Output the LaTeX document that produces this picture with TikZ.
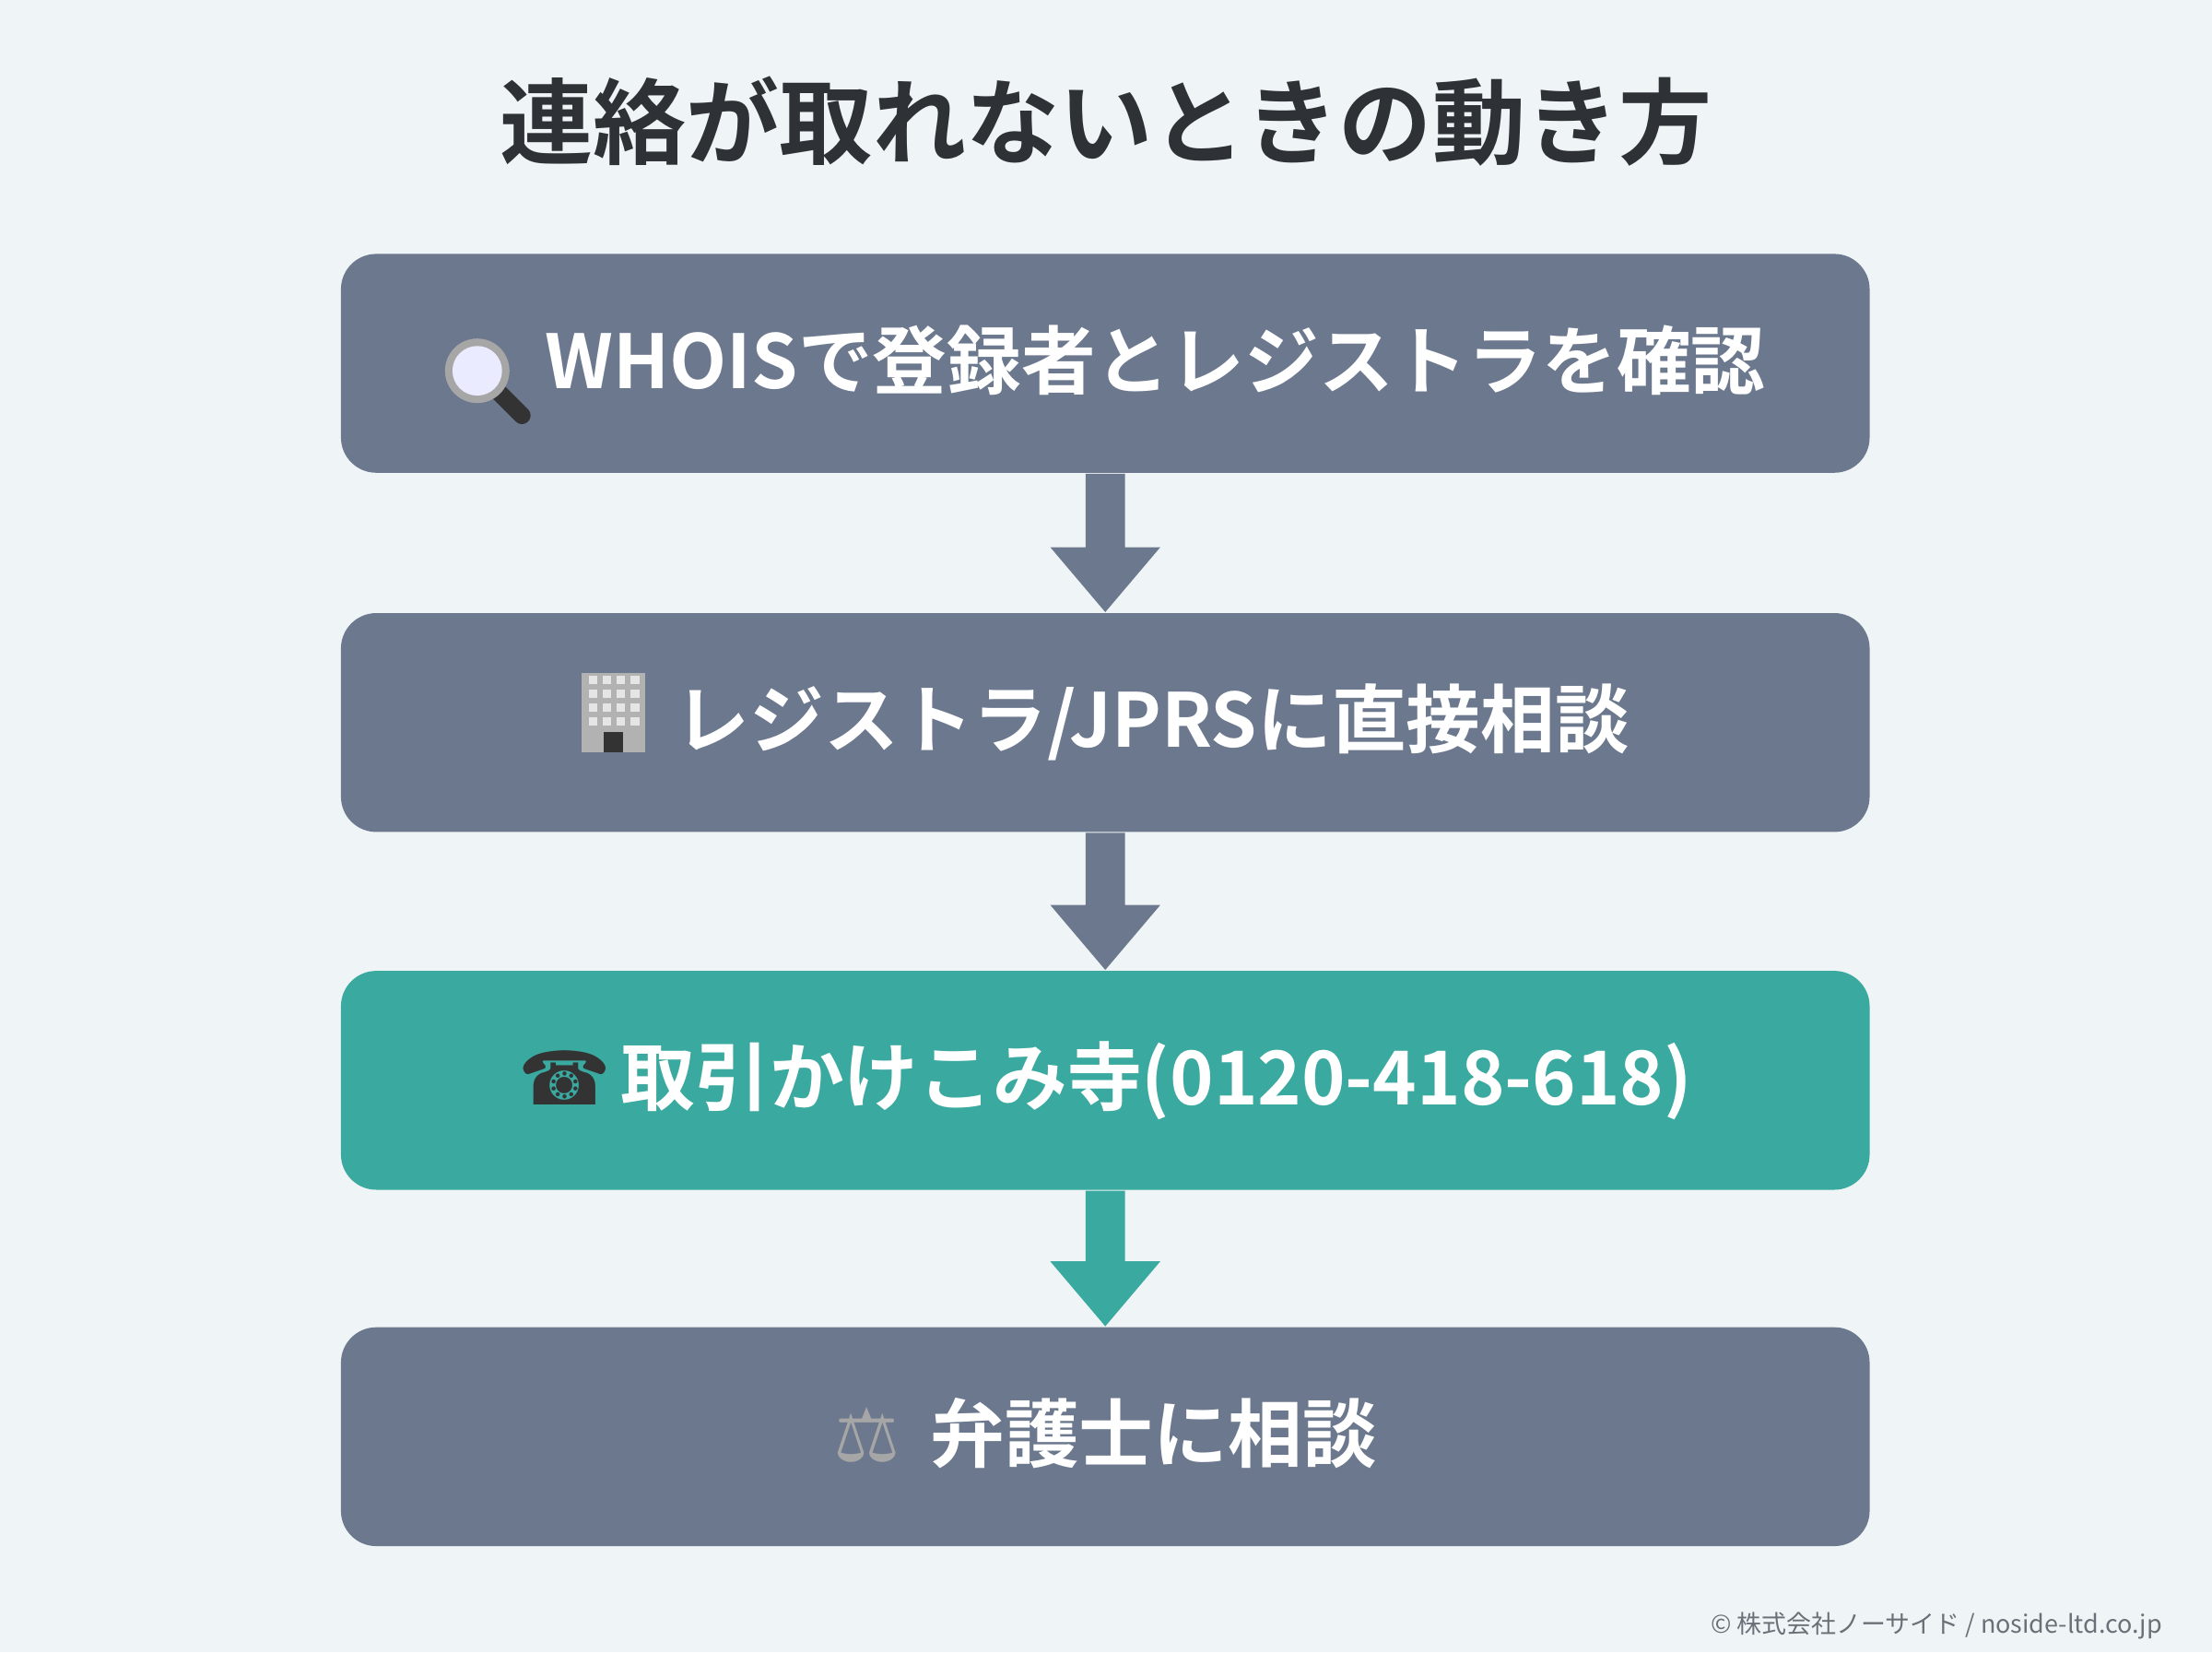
\documentclass[tikz,border=0pt]{standalone}
\usepackage{fontspec}
\setmainfont{Noto Sans CJK JP}[BoldFont={* Bold}]
\newfontfamily\symfont{DejaVu Sans}
\usetikzlibrary{positioning,calc}
\definecolor{boxgray}{HTML}{6B788D}
\definecolor{boxteal}{HTML}{3AA99F}
\definecolor{bgcol}{HTML}{EFF4F6}
\definecolor{titlecol}{HTML}{2E3236}
\definecolor{footcol}{HTML}{6A7078}
\tikzset{
  stepbox/.style={rounded corners=0.25cm, minimum width=10.83cm, minimum height=1.55cm,
    inner sep=0pt, text=white, font=\bfseries\fontsize{15}{16}\selectfont},
  flow/.style={fill=#1}
}
\newcommand{\steptext}[1]{\raisebox{-5pt}[0pt][0pt]{#1}}
% icons
\newcommand{\iconsearch}{\tikz[x=1pt,y=1pt,baseline=-2pt,sharp corners]{%
  \draw[line width=3.5pt,line cap=round,black!80] (3,-3) -- (7.5,-7.5);
  \fill[gray!70] (-1.5,1.5) circle (6.5);
  \fill[blue!8] (-1.5,1.5) circle (5);}}
\newcommand{\iconbuilding}{\tikz[x=1pt,y=1pt,baseline=-6pt,sharp corners]{%
  \fill[gray!60] (0,-7) rectangle (13,9);
  \foreach \i in {0,...,3}{\foreach \j in {0,...,3}{
    \fill[gray!20] (1.5+\i*2.8,6.8-\j*2.8) rectangle ++(1.8,1.6);}}
  \fill[black!80] (4.5,-7) rectangle (8.5,-3);}}
\begin{document}
\begin{tikzpicture}[x=0.01cm,y=-0.01cm]
  \fill[bgcol] (0,0) rectangle (1568,1171);
  \useasboundingbox (0,0) rectangle (1568,1171);

  \node (title) at (784,86) {\bfseries\fontsize{18.8}{21}\selectfont\color{titlecol}連絡が取れないときの動き方};

  \node[stepbox, fill=boxgray] (b1) at (783.5,257.5) {\steptext{\iconsearch\hspace{3pt}WHOISで登録者とレジストラを確認}};
  \node[stepbox, fill=boxgray, below=0.98cm of b1] (b2) {\steptext{\iconbuilding\hspace{6pt}レジストラ/JPRSに直接相談}};
  \node[stepbox, fill=boxteal, below=0.97cm of b2] (b3) {\steptext{{\symfont\mdseries\color{black!80}☎}\hspace{2pt}取引かけこみ寺(0120-418-618)}};
  \node[stepbox, fill=boxgray, below=0.96cm of b3] (b4) {\steptext{{\symfont\mdseries\color{gray!70}⚖}\hspace{6pt}弁護士に相談}};

  % arrows between steps
  \foreach \a/\b/\c in {b1/b2/boxgray, b2/b3/boxgray, b3/b4/boxteal}{
    \fill[flow=\c] ($(\a.south)+(-14,0)$) -- ($(\a.south)+(14,0)$)
      -- ($(\b.north)+(14,-46)$) -- ($(\b.north)+(39,-46)$) -- (\b.north)
      -- ($(\b.north)+(-39,-46)$) -- ($(\b.north)+(-14,-46)$) -- cycle;
  }

  \node[anchor=east, text=footcol, font=\fontsize{5}{6}\selectfont] (foot) at (1545,1152) {© 株式会社ノーサイド / noside-ltd.co.jp};
\end{tikzpicture}
\end{document}
